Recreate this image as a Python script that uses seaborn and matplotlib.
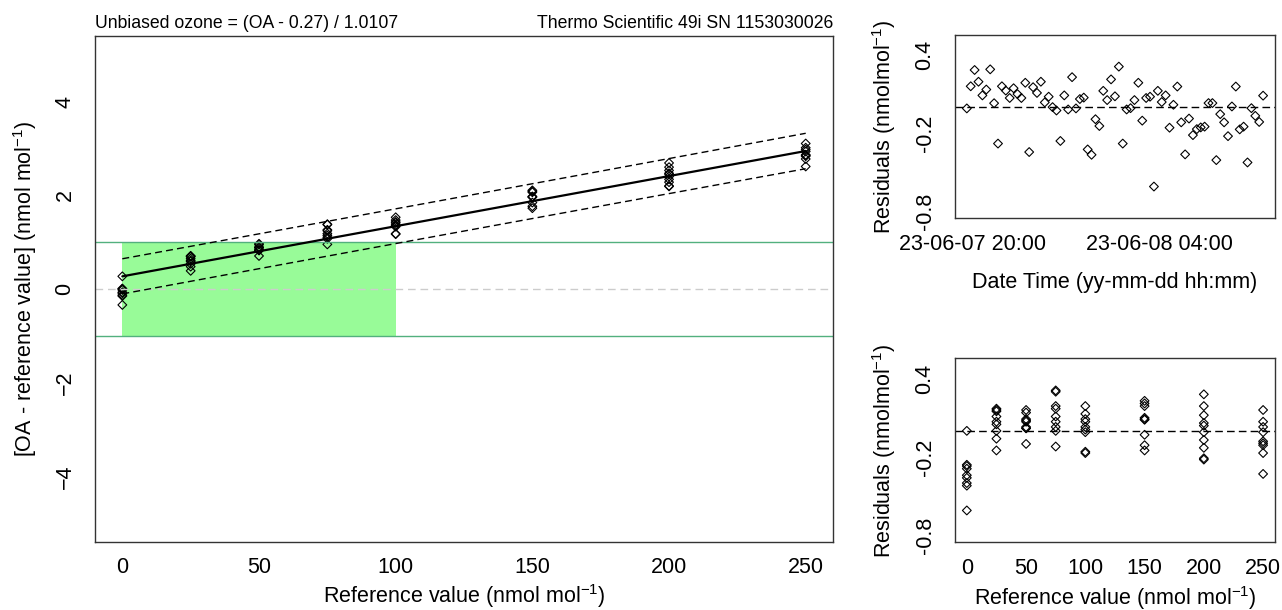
import numpy as np
import pandas as pd
import seaborn as sns
import matplotlib.pyplot as plt

sns.set_style("white")
plt.rcParams['font.family'] = ['Liberation Sans', 'DejaVu Sans']
plt.rcParams['mathtext.default'] = 'regular'
plt.rcParams['text.color'] = 'black'
plt.rcParams['axes.labelcolor'] = 'black'
plt.rcParams['xtick.color'] = 'black'
plt.rcParams['ytick.color'] = 'black'

# calibration result (from the header text)
intercept = 0.27
slope = 0.0107
title_left = "Unbiased ozone = (OA - 0.27) / 1.0107"
title_right = "Thermo Scientific 49i SN 1153030026"

# residuals per reference level (nmol/mol)
ref_levels = [0, 25, 50, 75, 100, 150, 200, 250]
resid_0 = [0.00, -0.26, -0.27, -0.29, -0.34, -0.36, -0.40, -0.42, -0.61]
resid_25 = [0.17, 0.16, 0.15, 0.11, 0.07, 0.05, 0.00, -0.06, -0.15]
resid_50 = [0.16, 0.14, 0.09, 0.08, 0.07, 0.03, 0.02, 0.02, -0.10]
resid_75 = [0.31, 0.30, 0.19, 0.17, 0.11, 0.07, 0.03, 0.00, -0.12]
resid_100 = [0.19, 0.13, 0.09, 0.07, 0.03, 0.01, -0.01, -0.16, -0.17]
resid_150 = [0.23, 0.21, 0.19, 0.10, 0.09, 0.085, -0.03, -0.11, -0.15]
resid_200 = [0.28, 0.19, 0.12, 0.06, 0.04, -0.01, -0.07, -0.13, -0.21, -0.22]
resid_250 = [0.16, 0.07, 0.03, -0.01, -0.08, -0.095, -0.11, -0.17, -0.33]
resid_by_level = [resid_0, resid_25, resid_50, resid_75, resid_100,
                  resid_150, resid_200, resid_250]

# residuals in time order (10 min steps), upper right panel
t_start = "2023-06-07 19:45"
resid_time = [-0.01, 0.16, 0.285, 0.195, 0.09, 0.135, 0.29, 0.03, -0.28, 0.16,
              0.127, 0.07, 0.145, 0.10, 0.07, 0.187, -0.345, 0.153, 0.109, 0.195,
              0.036, 0.08, 0.0, -0.026, -0.26, 0.09, -0.018, 0.23, -0.01, 0.062,
              0.073, -0.325, -0.366, -0.093, -0.145, 0.125, 0.054, 0.213, 0.083, 0.311,
              -0.28, -0.018, -0.008, 0.054, 0.187, -0.104, 0.07, 0.08, -0.61, 0.125,
              0.039, 0.09, -0.158, 0.018, 0.158, -0.117, -0.363, -0.088, -0.215, -0.169,
              -0.156, -0.15, 0.031, 0.031, -0.407, -0.054, -0.117, -0.223, 0.005, 0.158,
              -0.171, -0.15, -0.425, -0.008, -0.067, -0.114, 0.088]
time_ticks = pd.date_range("2023-06-07 20:00", "2023-06-08 08:00", freq="2h")
time_labels = ["23-06-07 20:00", "", "", "", "23-06-08 04:00", "", ""]

# long table
ref = []
res = []
for lev, vals in zip(ref_levels, resid_by_level):
    ref += [lev] * len(vals)
    res += vals
df = pd.DataFrame({"ref": ref, "resid": res})
df["diff"] = intercept + slope * df["ref"] + df["resid"]

times = pd.date_range(t_start, periods=len(resid_time), freq="10min")
dft = pd.DataFrame({"time": times, "resid": resid_time})

# prediction band of the fit
n = len(df)
xbar = df["ref"].mean()
sxx = ((df["ref"] - xbar) ** 2).sum()
s = np.sqrt((df["resid"] ** 2).sum() / (n - 2))
xs = np.linspace(0, 250, 101)
fit = intercept + slope * xs
half = 1.994 * s * np.sqrt(1 + 1 / n + (xs - xbar) ** 2 / sxx)

fs = 15.5
fig = plt.figure(figsize=(12.82, 6.10), dpi=100)
ax = fig.add_axes([0.0741, 0.1115, 0.5757, 0.8295])
ax1 = fig.add_axes([0.7449, 0.6421, 0.2496, 0.3010])
ax2 = fig.add_axes([0.7449, 0.1110, 0.2496, 0.3016])

pt_kw = dict(marker="D", s=20, facecolors="none", edgecolors="black", linewidths=0.8)

# main panel
ax.fill_between([0, 100], -1, 1, color="#98FB98", lw=0, zorder=0)
ax.axhline(1, color="#52B07E", lw=1)
ax.axhline(-1, color="#52B07E", lw=1)
ax.axhline(0, color="#cccccc", lw=1, ls=(0, (5.5, 3.5)))
sns.lineplot(x=xs, y=fit, ax=ax, color="black", lw=1.6)
sns.lineplot(x=xs, y=fit + half, ax=ax, color="black", lw=1, ls=(0, (5, 3)))
sns.lineplot(x=xs, y=fit - half, ax=ax, color="black", lw=1, ls=(0, (5, 3)))
sns.scatterplot(data=df, x="ref", y="diff", ax=ax, **pt_kw)
ax.set_xlim(-10, 260)
ax.set_ylim(-5.4, 5.4)
ax.set_xticks([0, 50, 100, 150, 200, 250])
ax.set_yticks([-4, -2, 0, 2, 4])
ax.set_xlabel(r"Reference value (nmol mol$^{-1}$)", fontsize=fs)
ax.set_ylabel(r"[OA - reference value] (nmol mol$^{-1}$)", fontsize=fs)
ax.xaxis.set_label_coords(0.5, -0.079)
ax.yaxis.set_label_coords(-0.076, 0.5)
ax.annotate(title_left, xy=(0, 1), xycoords="axes fraction", xytext=(0, 6),
            textcoords="offset points", ha="left", va="baseline", fontsize=12.7)
ax.annotate(title_right, xy=(1, 1), xycoords="axes fraction", xytext=(0, 6),
            textcoords="offset points", ha="right", va="baseline", fontsize=12.7)

# residuals vs time
ax1.axhline(0, color="black", lw=1, ls=(0, (5.5, 3)))
sns.scatterplot(data=dft, x="time", y="resid", ax=ax1, **pt_kw)
pad = (times[-1] - times[0]) * 0.04
ax1.set_xlim(times[0] - pad, times[-1] + pad)
ax1.set_xticks(time_ticks)
ax1.set_xticklabels(time_labels)
ax1.set_xlabel("Date Time (yy-mm-dd hh:mm)", fontsize=fs)
ax1.xaxis.set_label_coords(0.5, -0.29)

# residuals vs reference
ax2.axhline(0, color="black", lw=1, ls=(0, (5.5, 3)))
sns.scatterplot(data=df, x="ref", y="resid", ax=ax2, **pt_kw)
ax2.set_xlim(-10, 260)
ax2.set_xticks([0, 50, 100, 150, 200, 250])
ax2.set_xlabel(r"Reference value (nmol mol$^{-1}$)", fontsize=fs)
ax2.xaxis.set_label_coords(0.5, -0.228)

for a in (ax1, ax2):
    a.set_ylim(-0.854, 0.556)
    a.set_yticks([0.4, 0.2, 0.0, -0.2, -0.4, -0.6, -0.8])
    a.set_yticklabels(["0.4", "", "", "-0.2", "", "", "-0.8"])
    a.set_ylabel(r"Residuals (nmolmol$^{-1}$)", fontsize=fs)
    a.yaxis.set_label_coords(-0.178, 0.5)

for a in (ax, ax1, ax2):
    for sp in a.spines.values():
        sp.set_color("#333333")
        sp.set_linewidth(1.0)
    a.tick_params(labelsize=fs, direction="out", length=7, width=0.9, color="#333333")
    a.tick_params(axis="x", pad=4)
    a.tick_params(axis="y", pad=7)
    plt.setp(a.get_yticklabels(), rotation=90, va="center")

fig.savefig("out.png", dpi=100)
